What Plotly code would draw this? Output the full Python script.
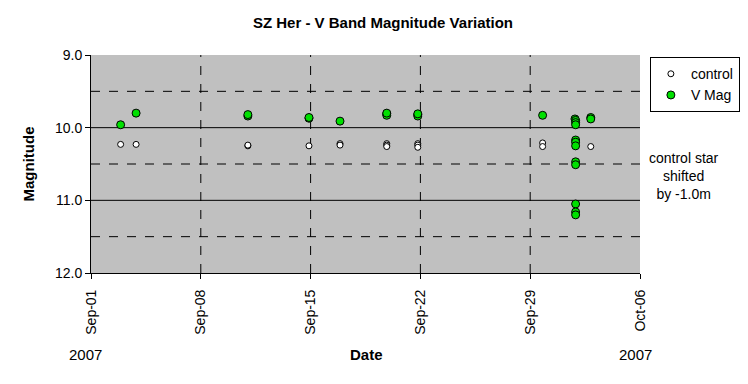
import plotly.graph_objects as go

# V Mag observations
vmag_dates = [
    "2007-09-02 21:20", "2007-09-03 21:00",
    "2007-09-11 00:00", "2007-09-11 00:00",
    "2007-09-14 21:30", "2007-09-14 21:30",
    "2007-09-16 21:00",
    "2007-09-19 20:30", "2007-09-19 20:30", "2007-09-19 20:30",
    "2007-09-21 20:00", "2007-09-21 20:00", "2007-09-21 20:00",
    "2007-09-29 19:00",
    "2007-10-01 20:30", "2007-10-01 21:30", "2007-10-01 21:30", "2007-10-01 21:30",
    "2007-10-01 21:30", "2007-10-01 21:30", "2007-10-01 21:30", "2007-10-01 21:30",
    "2007-10-01 21:30", "2007-10-01 21:30", "2007-10-01 21:30", "2007-10-01 21:30",
    "2007-10-02 20:40", "2007-10-02 20:40",
]
vmag_values = [
    9.96, 9.80,
    9.84, 9.82,
    9.87, 9.86,
    9.91,
    9.81, 9.83, 9.80,
    9.82, 9.84, 9.81,
    9.83,
    9.88, 9.90, 9.93, 9.96,
    10.17, 10.20, 10.25, 10.47,
    10.51, 11.05, 11.16, 11.20,
    9.86, 9.88,
]

# control star (shifted by -1.0m)
ctrl_dates = [
    "2007-09-02 21:20", "2007-09-03 21:00",
    "2007-09-11 00:00", "2007-09-11 00:00",
    "2007-09-14 21:30",
    "2007-09-16 21:00", "2007-09-16 21:00",
    "2007-09-19 20:30", "2007-09-19 20:30", "2007-09-19 20:30",
    "2007-09-21 20:00", "2007-09-21 20:00", "2007-09-21 20:00",
    "2007-09-29 19:00", "2007-09-29 19:00",
    "2007-10-01 21:30", "2007-10-01 21:30", "2007-10-01 21:30",
    "2007-10-02 20:40",
]
ctrl_values = [
    10.23, 10.23,
    10.25, 10.24,
    10.25,
    10.22, 10.24,
    10.22, 10.24, 10.26,
    10.22, 10.24, 10.27,
    10.21, 10.26,
    10.21, 10.23, 10.25,
    10.26,
]

x_ticks = ["2007-09-01", "2007-09-08", "2007-09-15", "2007-09-22", "2007-09-29", "2007-10-06"]
x_tick_text = ["Sep-01", "Sep-08", "Sep-15", "Sep-22", "Sep-29", "Oct-06"]
y_ticks = [9.0, 10.0, 11.0, 12.0]
y_solid_grid = [10.0, 11.0]
y_dash_grid = [9.5, 10.5, 11.5]
x_dash_grid = x_ticks[1:-1]

FONT = "Liberation Sans, Arial, sans-serif"

fig = go.Figure()
fig.add_trace(go.Scatter(
    x=ctrl_dates, y=ctrl_values, mode="markers", name="control",
    marker=dict(symbol="circle", size=6, color="white", line=dict(color="black", width=1)),
))
fig.add_trace(go.Scatter(
    x=vmag_dates, y=vmag_values, mode="markers", name="V Mag",
    marker=dict(symbol="circle", size=8, color="#00E000", line=dict(color="black", width=1)),
))

shapes = []
for v in y_solid_grid:
    shapes.append(dict(type="line", xref="paper", yref="y", x0=0, x1=1, y0=v, y1=v,
                       line=dict(color="black", width=1), layer="below"))
for v in y_dash_grid:
    shapes.append(dict(type="line", xref="paper", yref="y", x0=0, x1=1, y0=v, y1=v,
                       line=dict(color="black", width=1, dash="dash"), layer="below"))
for d in x_dash_grid:
    shapes.append(dict(type="line", xref="x", yref="paper", x0=d, x1=d, y0=0, y1=1,
                       line=dict(color="black", width=1, dash="dash"), layer="below"))

fig.update_layout(
    width=748, height=384,
    margin=dict(l=91, r=108, t=55, b=111, autoexpand=False),
    paper_bgcolor="white", plot_bgcolor="#C0C0C0",
    font=dict(family=FONT, size=14, color="black"),
    title=dict(text="<b>SZ Her - V Band Magnitude Variation</b>", x=0.512, xanchor="center",
               y=0.94, yanchor="middle", font=dict(family=FONT, size=15)),
    showlegend=True,
    legend=dict(x=1.018, y=0.99, xanchor="left", yanchor="top", bgcolor="white",
                bordercolor="black", borderwidth=1, font=dict(size=14, family=FONT),
                itemwidth=30, tracegroupgap=0),
    shapes=shapes,
    xaxis=dict(
        type="date", range=["2007-09-01", "2007-10-06"],
        tickvals=x_ticks, ticktext=x_tick_text, tickangle=-90,
        showgrid=False, zeroline=False,
        showline=True, linecolor="black", linewidth=1,
        ticks="outside", ticklen=5, tickcolor="black",
        ticklabelstandoff=5,
        tickfont=dict(size=14, family=FONT),
    ),
    yaxis=dict(
        range=[12, 9], tickvals=y_ticks, tickformat=".1f",
        showgrid=False, zeroline=False,
        showline=True, linecolor="black", linewidth=1,
        ticks="outside", ticklen=5, tickcolor="black",
        tickfont=dict(size=14, family=FONT),
        title=dict(text="<b>Magnitude</b>", font=dict(size=15, family=FONT), standoff=16),
    ),
    annotations=[
        dict(text="control star<br>shifted<br>by -1.0m", xref="paper", yref="paper",
             x=1.08, y=0.445, xanchor="center", yanchor="middle", showarrow=False,
             font=dict(size=14, family=FONT)),
        dict(text="<b>Date</b>", xref="paper", yref="paper", x=0.502, y=-0.375,
             xanchor="center", yanchor="middle", showarrow=False, font=dict(size=15, family=FONT)),
        dict(text="2007", xref="paper", yref="paper", x=-0.01, y=-0.375,
             xanchor="center", yanchor="middle", showarrow=False, font=dict(size=15, family=FONT)),
        dict(text="2007", xref="paper", yref="paper", x=0.992, y=-0.375,
             xanchor="center", yanchor="middle", showarrow=False, font=dict(size=15, family=FONT)),
    ],
)

fig.write_html("out.html")
